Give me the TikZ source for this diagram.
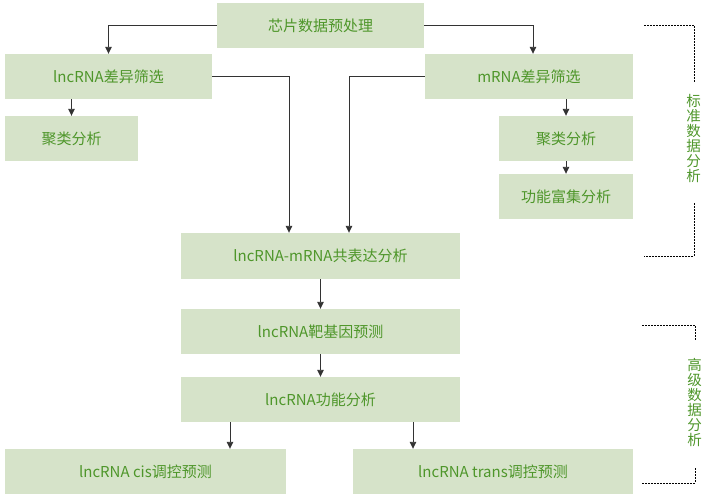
\documentclass[tikz,border=0pt]{standalone}
\usepackage{fontspec}
\setmainfont{Noto Sans CJK SC}
\usetikzlibrary{arrows.meta}
\definecolor{boxfill}{HTML}{D6E3C9}
\definecolor{boxtext}{HTML}{4E962A}
\begin{document}
\begin{tikzpicture}[x=1pt, y=-1pt,
	every node/.style={fill=boxfill, text=boxtext, inner sep=0pt, font=\fontsize{15}{16}\selectfont},
	flow/.style={draw=black!80, line width=0.9pt, -{Triangle[length=7pt,width=6.5pt]}},
	brace/.style={draw=black, line width=1pt, dash pattern=on 2pt off 1pt},
	side/.style={fill=none, align=center, font=\fontsize{14.5}{15}\selectfont}]
	\useasboundingbox (0,0) rectangle (712,499);

	\node at (320.5, 25.5)	[minimum width=207, minimum height=45] (pre)	{芯片数据预处理};
	\node at (108.5, 76.5)	[minimum width=207, minimum height=45] (lnc)	{lncRNA差异筛选};
	\node at (529, 76.5)	[minimum width=208, minimum height=45] (mrna)	{mRNA差异筛选};
	\node at (71.5, 138.5)	[minimum width=133, minimum height=45] (lclu)	{聚类分析};
	\node at (566, 138.5)	[minimum width=134, minimum height=45] (mclu)	{聚类分析};
	\node at (566, 196.5)	[minimum width=134, minimum height=45] (enrich)	{功能富集分析};
	\node at (320.5, 256)	[minimum width=279, minimum height=46] (coexp)	{lncRNA-mRNA共表达分析};
	\node at (320.5, 331.5)	[minimum width=279, minimum height=45] (target)	{lncRNA靶基因预测};
	\node at (320.5, 399.5)	[minimum width=279, minimum height=45] (func)	{lncRNA功能分析};
	\node at (145.5, 471.5)	[minimum width=281, minimum height=45] (cis)	{lncRNA cis调控预测};
	\node at (493, 471.5)	[minimum width=280, minimum height=45] (trans)	{lncRNA trans调控预测};

	\node at (693.5, 138) [side] (std) {标\\准\\数\\据\\分\\析};
	\node at (694.5, 402) [side] (adv) {高\\级\\数\\据\\分\\析};

	\draw[brace] (644, 25) -- (694, 25) -- (694, 82);
	\draw[brace] (694, 203) -- (694, 256) -- (644, 256);
	\draw[brace] (642, 325) -- (695, 325) -- (695, 340);
	\draw[brace] (695, 468) -- (695, 483) -- (642, 483);

	\draw[flow] (pre.west) -| (lnc.north);
	\draw[flow] (pre.east) -| ([xshift=4pt]mrna.north);
	\draw[flow] (lnc.east) -| ([xshift=-31.5pt]coexp.north);
	\draw[flow] (mrna.west) -| ([xshift=28.5pt]coexp.north);
	\draw[flow] (lclu.north |- lnc.south) -- (lclu.north);
	\draw[flow] (mclu.north |- mrna.south) -- (mclu.north);
	\draw[flow] (mclu) -- (enrich);
	\draw[flow] (coexp) -- (target);
	\draw[flow] (target) -- (func);
	\draw[flow] ([xshift=-90.5pt]func.south) -- ([xshift=84.5pt]cis.north);
	\draw[flow] ([xshift=92.5pt]func.south) -- ([xshift=-80pt]trans.north);
\end{tikzpicture}
\end{document}
